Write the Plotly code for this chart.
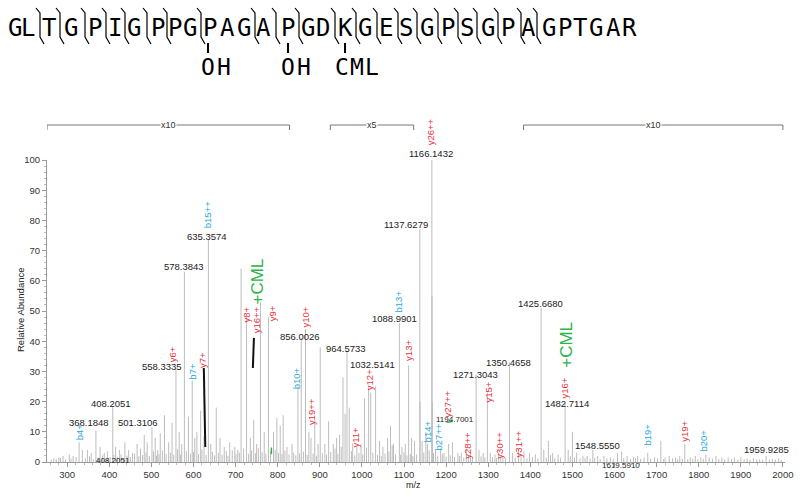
import plotly.graph_objects as go

# ---------------- data ----------------
peak_mz = [280, 290, 305, 314, 328.2, 336, 348, 357, 368.18, 378, 388, 396, 408.21, 415, 424, 437, 446, 455,
           466, 474, 483, 490, 501.31, 509, 515, 521, 531, 541, 549, 558.33, 566, 572, 578.38, 588, 597, 603,
           608, 617, 625, 635.36, 641, 654, 663, 673, 686, 698, 705, 713, 726, 735, 743, 750, 759, 768, 778,
           790, 798, 806, 813, 822, 834, 848, 856.00, 866, 874, 879, 888, 896, 901, 912, 921, 932, 940, 947,
           955, 960, 964.57, 970, 978, 988, 998, 1006, 1016, 1021, 1032.51, 1042, 1050, 1061, 1068, 1075,
           1088.99, 1095, 1103, 1111, 1118, 1125, 1137.63, 1138.13, 1143, 1152, 1156, 1166.14, 1166.64,
           1167.14, 1175, 1187, 1195, 1206, 1215, 1228, 1236, 1248, 1258, 1271.30, 1278, 1288, 1298, 1305,
           1316, 1325, 1335, 1350.47, 1358, 1372, 1385, 1398, 1412, 1425.67, 1432, 1443, 1453, 1466, 1482.71,
           1490, 1500, 1510, 1525, 1535, 1548.56, 1560, 1575, 1590, 1607, 1617, 1630, 1645, 1655, 1670, 1679,
           1695, 1710, 1720, 1730, 1745, 1755, 1767, 1780, 1792, 1805, 1817, 1825, 1841, 1855, 1870, 1885,
           1900, 1915, 1930, 1945, 1960, 1975, 1990]
peak_int = [1.5, 2.0, 2.5, 2.0, 6.5, 4.0, 4.0, 3.0, 10.5, 5, 3, 3.5, 18.5, 5, 4, 6.5, 4, 3,
            6, 4.5, 9, 6.5, 11.5, 8, 4, 9.5, 15.5, 6.5, 13, 31, 10, 6, 63, 15, 27, 8,
            10, 17, 8.5, 73.5, 6, 18, 8, 5, 6.5, 5, 4, 64, 48, 8, 14, 6, 53, 10, 48,
            10, 14.5, 12, 15.5, 5, 6, 25, 41, 44, 10, 8, 14, 6, 38, 6, 13.5, 6, 8, 9,
            28, 16, 37, 18, 6, 5, 6, 21, 25, 23, 25, 7, 5, 8, 12, 6,
            46, 5, 6, 32, 8, 7, 77, 20, 7, 10, 6, 100, 55,
            20, 4, 4.5, 3, 6, 6.5, 3, 3, 4, 3, 29, 4, 3, 23, 3,
            2.5, 3, 2, 33, 3, 4.5, 3.5, 3, 2.5, 51, 4, 7, 3, 2.5, 19.5,
            4, 10, 3, 2, 2, 4, 2, 2, 1.5, 3, 3.5, 2, 1.5, 2, 1.5, 3,
            1.5, 7, 1.5, 2, 1.5, 2, 6, 1.5, 2, 1.5, 2.5, 1.5, 2, 1.5, 1.5, 1.5,
            1.5, 1.2, 1.2, 1, 2, 1, 1.2]

noise_mz = [262, 268, 274, 284, 296, 309, 321, 343, 353, 362, 373, 384, 392, 402, 411, 419, 428, 433, 442, 450,
            460, 470, 479, 487, 495, 505, 512, 518, 526, 535, 545, 553, 562, 569, 583, 593, 600, 612, 620, 630,
            645, 650, 659, 668, 678, 682, 692, 701, 709, 719, 731, 738, 747, 754, 763, 772, 783, 794, 802, 810,
            817, 827, 838, 843, 852, 861, 870, 884, 892, 906, 916, 926, 936, 943, 951, 975, 983, 993, 1002, 1011,
            1026, 1037, 1046, 1055, 1064, 1072, 1080, 1092, 1100, 1107, 1115, 1121, 1130, 1147, 1160, 1170, 1180,
            1191, 1200, 1210, 1220, 1232, 1242, 1253, 1263, 1283, 1292, 1310, 1320, 1330, 1341, 1364, 1378, 1392,
            1405, 1418, 1438, 1448, 1458, 1472, 1495, 1505, 1518, 1530, 1542, 1553, 1566, 1582, 1597, 1622, 1638,
            1650, 1662, 1686, 1702, 1716, 1738, 1750, 1761, 1774, 1786, 1798, 1811, 1833, 1848, 1862, 1878, 1893,
            1908, 1922, 1938, 1952, 1968, 1982, 1996]
noise_int = [0.8, 1.2, 0.9, 1.4, 0.8, 1.1, 1.6, 1.3, 1.9, 0.9, 1.5, 2.2, 1.2, 1.6, 2.4, 1.7, 2.6, 1.4, 2.1, 1.6,
             2.8, 1.9, 2.3, 3.2, 2.0, 3.5, 2.1, 2.6, 3.8, 2.7, 3.1, 2.4, 4.2, 2.5, 3.6, 2.8, 3.3, 2.6, 4.1, 2.3,
             3.4, 2.2, 3.0, 2.4, 3.6, 2.1, 3.9, 2.6, 3.1, 4.4, 2.7, 3.8, 2.9, 4.6, 3.2, 2.8, 3.5, 4.1, 3.0, 2.6,
             3.7, 2.5, 3.1, 2.2, 2.9, 3.4, 2.3, 2.8, 2.1, 3.0, 2.4, 3.3, 4.5, 2.7, 5.0, 3.6, 2.2, 3.0, 2.5, 4.8,
             3.1, 2.4, 2.0, 2.8, 3.5, 5.5, 2.6, 2.3, 3.2, 2.2, 2.6, 2.0, 2.5, 3.2, 3.8, 3.0, 2.1,
             2.6, 1.8, 2.2, 1.6, 2.0, 1.5, 2.1, 1.4, 1.8, 1.5, 1.7, 1.3, 1.6, 1.2, 1.5, 1.8, 1.3,
             1.6, 1.2, 1.5, 2.3, 1.2, 1.4, 1.9, 1.4, 1.2, 1.3, 1.1, 1.4, 1.0, 1.2, 1.1, 1.3, 1.0,
             1.2, 1.0, 1.1, 1.2, 1.0, 1.2, 0.9, 1.1, 0.9, 1.1, 0.9, 1.0, 1.1, 1.0, 0.9, 1.0, 0.8,
             0.9, 0.8, 0.9, 0.8, 0.9, 0.8, 0.7]

# numeric peak labels (text, x in m/z, y in % abundance)
num_text = ["368.1848", "408.2051", "501.3106", "558.3335", "578.3843", "635.3574", "856.0026", "964.5733",
            "1032.5141", "1088.9901", "1137.6279", "1166.1432", "1271.3043", "1350.4658", "1425.6680",
            "1482.7114", "1548.5550", "1959.9285"]
num_x = [351, 405, 468, 525, 577, 633, 854, 963, 1026, 1077, 1104, 1164, 1270, 1348, 1425, 1488, 1560, 1960]
num_y = [13.2, 19.5, 13.2, 31.5, 64.6, 74.8, 41.7, 37.7, 32.4, 47.4, 78.5, 102.2, 29.1, 33.1, 52.6, 19.5, 5.3, 4.0]

small_text = ["408.2051", "1194.7001", "1619.5910"]
small_x = [408, 1220, 1615]
small_y = [0.4, 14.2, -1.3]

y_ions = ["y6+", "y7+", "y8+", "y16++", "y9+", "y10+", "y19++", "y11+", "y12+", "y13+", "y26++", "y27++",
          "y28++", "y15+", "y30++", "y31++", "y16+", "y19+"]
y_ion_x = [552, 623, 726, 749, 787, 866, 882, 985, 1020, 1111, 1165, 1203, 1249, 1301, 1327, 1372, 1479, 1767]
y_ion_y = [35.8, 33.8, 48.7, 47.0, 49.3, 48.0, 16.6, 8.3, 27.2, 37.0, 109.3, 19.2, 5.6, 23.2, 5.6, 6.0, 24.5, 10.3]

b_ions = ["b4+", "b7+", "b15++", "b10+", "b13+", "b14+", "b27++", "b19+", "b20+"]
b_ion_x = [329, 597, 635, 844, 1087, 1156, 1182, 1679, 1812]
b_ion_y = [10.0, 30.0, 81.8, 27.8, 53.0, 10.0, 8.3, 9.0, 7.0]

cml_x = [752, 1484]
cml_y = [59.6, 38.7]

# zoom-factor brackets
zoom_text = ["x10", "x5", "x10"]
zoom_start = [252, 925, 1384]
zoom_end = [828, 1123, 2000]

# peptide sequence
seq = "GLTGPIGPPGPAGAPGDKGESGPSGPAGPTGAR"
seq_px = [15, 28, 49, 71, 95, 115, 134, 158, 175, 190, 210, 227, 244, 263, 288, 308, 323, 345, 365, 386,
          406, 427, 448, 467, 488, 508, 528, 549, 565, 580, 596, 613, 629]
mark_px = [40, 60, 85, 106, 125, 147, 167, 201, 255, 276, 299, 335, 356, 377, 398, 417, 438, 458, 477,
           498, 521, 537]
mod_px = [208, 288, 345]
mod_chars = [("O", 208), ("H", 224), ("O", 288), ("H", 304), ("C", 342), ("M", 357), ("L", 372)]

# ---------------- geometry helpers ----------------
W, H = 800, 497
L, R, T, B = 47, 785, 160, 462


def pxx(p):
    return (p - L) / (R - L)


def pxy(p):
    return (B - p) / (B - T)


def yp(v):
    return v / 100.0


RED = "#e8333c"
BLUE = "#28a8e0"
GREEN = "#2db34a"
GRAY = "#bdbdbd"

# stick spectrum
all_mz = list(noise_mz) + list(peak_mz)
all_int = list(noise_int) + list(peak_int)
xs, ys = [], []
for m, h in zip(all_mz, all_int):
    xs += [m, m, None]
    ys += [0, h, None]

fig = go.Figure()
fig.add_trace(go.Scatter(x=xs, y=ys, mode="lines", line=dict(color=GRAY, width=1),
                         hoverinfo="skip", showlegend=False))

ann = []
shapes = []
lab_font = dict(family="Liberation Sans, Arial", size=9.5, color="#222")

for t, x, y in zip(num_text, num_x, num_y):
    ann.append(dict(x=x, y=yp(y), xref="x", yref="paper", text=t, showarrow=False, font=lab_font,
                    xanchor="center", yanchor="middle"))
for t, x, y in zip(small_text, small_x, small_y):
    ann.append(dict(x=x, y=yp(y), xref="x", yref="paper", text=t, showarrow=False,
                    font=dict(family="Liberation Sans, Arial", size=8, color="#222"),
                    xanchor="center", yanchor="middle"))
for t, x, y in zip(y_ions, y_ion_x, y_ion_y):
    ann.append(dict(x=x, y=yp(y), xref="x", yref="paper", text=t, showarrow=False, textangle=-90,
                    font=dict(family="Liberation Sans, Arial", size=9.5, color=RED),
                    xanchor="center", yanchor="middle"))
for t, x, y in zip(b_ions, b_ion_x, b_ion_y):
    ann.append(dict(x=x, y=yp(y), xref="x", yref="paper", text=t, showarrow=False, textangle=-90,
                    font=dict(family="Liberation Sans, Arial", size=9.5, color=BLUE),
                    xanchor="center", yanchor="middle"))
for x, y in zip(cml_x, cml_y):
    ann.append(dict(x=x, y=yp(y), xref="x", yref="paper", text="+CML", showarrow=False, textangle=-90,
                    font=dict(family="Liberation Sans, Arial", size=17, color=GREEN),
                    xanchor="center", yanchor="middle"))

# leader lines
shapes.append(dict(type="line", xref="x", yref="y", x0=624.5, y0=31.1, x1=628, y1=5.0,
                   line=dict(color="#111", width=2)))
shapes.append(dict(type="line", xref="x", yref="y", x0=743.5, y0=41.1, x1=741, y1=31.1,
                   line=dict(color="#111", width=2)))
# small green marks
shapes.append(dict(type="line", xref="x", yref="y", x0=785, y0=2.6, x1=785, y1=4.8,
                   line=dict(color=GREEN, width=1.5)))
shapes.append(dict(type="line", xref="x", yref="y", x0=1201, y0=13.2, x1=1215, y1=13.4,
                   line=dict(color=GREEN, width=1.5)))
shapes.append(dict(type="line", xref="x", yref="y", x0=1614, y0=-2.3, x1=1620, y1=-2.3,
                   line=dict(color=GREEN, width=2)))

# zoom brackets
yb = pxy(125)
yt = pxy(130)
for t, s, e in zip(zoom_text, zoom_start, zoom_end):
    shapes.append(dict(type="line", xref="x", yref="paper", x0=s, x1=e, y0=yb, y1=yb,
                       line=dict(color="#777", width=1)))
    shapes.append(dict(type="line", xref="x", yref="paper", x0=s, x1=s, y0=yb, y1=yt,
                       line=dict(color="#777", width=1)))
    shapes.append(dict(type="line", xref="x", yref="paper", x0=e, x1=e, y0=yb, y1=yt,
                       line=dict(color="#777", width=1)))
    ann.append(dict(x=(s + e) / 2, y=yb, xref="x", yref="paper", text=t, showarrow=False,
                    bgcolor="white", borderpad=0,
                    font=dict(family="Liberation Sans, Arial", size=9, color="#333"),
                    xanchor="center", yanchor="middle"))

# peptide sequence
seq_font = dict(family="DejaVu Sans Mono", size=24, color="black")
for ch, p in zip(seq, seq_px):
    ann.append(dict(x=pxx(p), y=pxy(28), xref="paper", yref="paper", text=ch, showarrow=False,
                    font=seq_font, xanchor="center", yanchor="middle"))
for m in mark_px:
    path = (f"M {pxx(m-4)},{pxy(8)} L {pxx(m)},{pxy(13)} L {pxx(m)},{pxy(37)} "
            f"L {pxx(m+4)},{pxy(44)}")
    shapes.append(dict(type="path", xref="paper", yref="paper", path=path,
                       line=dict(color="black", width=1.2)))
for m in mod_px:
    shapes.append(dict(type="line", xref="paper", yref="paper", x0=pxx(m), x1=pxx(m),
                       y0=pxy(43), y1=pxy(53), line=dict(color="black", width=2)))
for ch, p in mod_chars:
    ann.append(dict(x=pxx(p), y=pxy(67), xref="paper", yref="paper", text=ch, showarrow=False,
                    font=dict(family="DejaVu Sans Mono", size=23, color="black"),
                    xanchor="center", yanchor="middle"))

# axis titles
ann.append(dict(x=pxx(413), y=pxy(485), xref="paper", yref="paper", text="m/z", showarrow=False,
                font=dict(family="Liberation Sans, Arial", size=9, color="#222"),
                xanchor="center", yanchor="middle"))
ann.append(dict(x=pxx(20), y=pxy(310), xref="paper", yref="paper", text="Relative Abundance",
                showarrow=False, textangle=-90,
                font=dict(family="Liberation Sans, Arial", size=9.5, color="#222"),
                xanchor="center", yanchor="middle"))

fig.update_layout(
    width=W, height=H,
    margin=dict(l=L, r=W - R, t=T, b=H - B, pad=0),
    plot_bgcolor="white", paper_bgcolor="white",
    showlegend=False,
    annotations=ann, shapes=shapes,
    xaxis=dict(range=[252, 2005], tickmode="array", tickvals=list(range(300, 2001, 100)),
               showgrid=False, zeroline=False, showline=True, linecolor="#999", linewidth=1,
               ticks="outside", ticklen=4, tickcolor="#999", automargin=False,
               ticklabeloverflow="allow",
               minor=dict(ticks="outside", ticklen=2, dtick=20, tick0=0, tickcolor="#bbb"),
               tickfont=dict(family="Liberation Sans, Arial", size=9.5, color="#333")),
    yaxis=dict(range=[0, 100], tickmode="array", tickvals=list(range(0, 101, 10)),
               showgrid=False, zeroline=False, showline=True, linecolor="#999", linewidth=1,
               ticks="outside", ticklen=4, tickcolor="#999", automargin=False,
               minor=dict(ticks="outside", ticklen=2, dtick=2, tick0=0, tickcolor="#bbb"),
               tickfont=dict(family="Liberation Sans, Arial", size=9.5, color="#333")),
)

# remove the default 8px page margin so the figure sits at the window's top-left corner
fig.write_html("out.html",
               config={"displayModeBar": False},
               post_script="document.body.style.margin='0px';document.body.style.overflow='hidden';")
